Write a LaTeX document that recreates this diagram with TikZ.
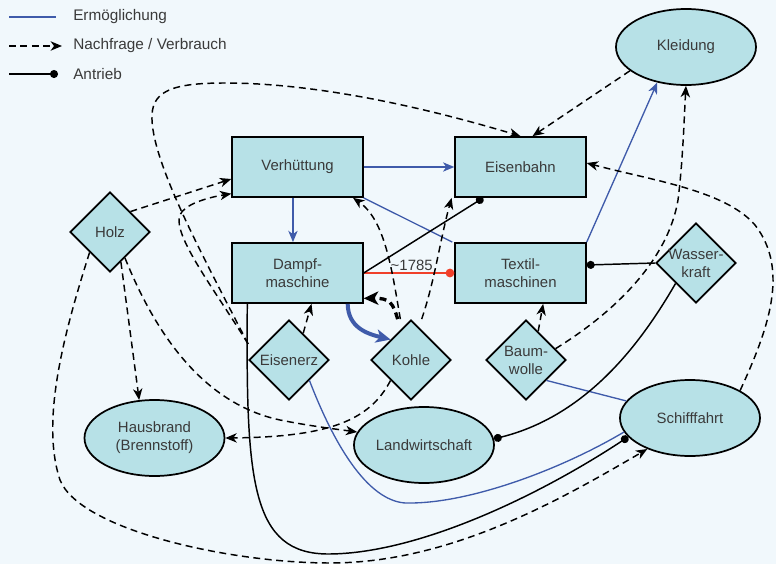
\documentclass[tikz,border=0pt]{standalone}
\usepackage{fontspec}
\setmainfont{Liberation Sans}
\usetikzlibrary{shapes.geometric, arrows.meta}
\definecolor{paper}{HTML}{F1F8FC}
\definecolor{cell}{HTML}{B7E1E7}
\definecolor{enablecol}{HTML}{3F5BAA}
\definecolor{yearcol}{HTML}{F0402A}
\definecolor{ink}{HTML}{3A3A3A}

\begin{document}
\begin{tikzpicture}[x=0.75pt, y=-0.75pt,
    every node/.style={font=\fontsize{11.2}{13.5}\selectfont, text=ink, align=center},
    >={Stealth[length=8.5pt, width=7pt, inset=2.5pt]},
    box/.style={draw=black, line width=1.3pt, fill=cell, minimum width=98pt, minimum height=45pt},
    resource/.style={diamond, draw=black, line width=1.3pt, fill=cell, minimum size=60pt, inner sep=-3pt},
    usage/.style={ellipse, draw=black, line width=1.3pt, fill=cell, minimum width=105pt, minimum height=57pt, inner sep=0pt},
    enable/.style={draw=enablecol, line width=1pt},
    demand/.style={draw=black, line width=1.1pt, dash pattern=on 5.2pt off 3.4pt},
    drive/.style={draw=black, line width=1.1pt, -{Circle[length=6pt]}},
    legendtext/.style={anchor=west, inner sep=0pt, font=\fontsize{11.5}{13.5}\selectfont}]
                \fill[paper, use as bounding box] (0,0) rectangle (776,564);

                \coordinate (e0) at (9,17);
                \coordinate (e1) at (56,17);
                \coordinate (d0) at (9,46);
                \coordinate (d1) at (62,46);
                \coordinate (a0) at (9,74);
                \coordinate (a1) at (58,74);
                \node[legendtext] (eText) at (73,17) {Ermöglichung};
                \node[legendtext] (dText) at (73,46) {Nachfrage / Verbrauch};
                \node[legendtext] (aText) at (73,74) {Antrieb};
                \draw[enable] (e0) -- (e1);
                \draw[demand, ->] (d0) -- (d1);
                \draw[drive] (a0) -- (a1);

                \node[box] (verh) at (297.5,167) {Verhüttung};
                \node[box] (bahn) at (520.5,167) {Eisenbahn};
                \node[box] (dampf) at (297.5,273) {Dampf-\\maschine};
                \node[box] (textil) at (520.5,273) {Textil-\\maschinen};
                \node[resource] (holz) at (110,232) {Holz};
                \node[resource] (erz) at (289,360) {Eisenerz};
                \node[resource] (kohle) at (411,360) {Kohle};
                \node[resource] (baum) at (526,360) {Baum-\\wolle};
                \node[resource] (wasser) at (696,263) {Wasser-\\kraft};
                \node[usage] (kleid) at (686,47) {Kleidung};
                \node[usage] (haus) at (154.5,438) {Hausbrand\\(Brennstoff)};
                \node[usage] (land) at (424,445) {Landwirtschaft};
                \node[usage] (schiff) at (690,418) {Schifffahrt};

                \draw[enable, ->] (verh) -- (bahn);
                \draw[enable, ->] ([xshift=-3.4pt]verh.south) -- ([xshift=-3.4pt]dampf.north);
                \draw[enable] (verh.south east) -- ([xshift=-1.5pt]textil.north west);
                \draw[enable, ->] (textil.north east) -- (kleid.231);
                \draw[enable, line width=3pt, -{Stealth[length=11pt, width=10pt, inset=3pt]}] ([xshift=-12pt]dampf.south east) .. controls (348,328) and (368,334) .. (kohle.north west);
                \draw[enable] (erz.south east) .. controls (340,460) and (375,505) .. (410,503) .. controls (470,503) and (560,470) .. (schiff.192);
                \draw[enable] (baum.south east) -- (schiff.165);

                \draw[draw=yearcol, line width=1.1pt, -{Circle[length=6.5pt]}] (dampf.east) -- node[above, pos=0.53, inner sep=1pt] {\textasciitilde1785} (textil.west);
                \draw[drive] (dampf.east) -- ([xshift=-28pt]bahn.south);
                \draw[drive] (wasser.west) -- ([yshift=6pt]textil.east);
                \draw[drive] (wasser.south west) .. controls (644,338) and (590,415) .. (land.5);
                \draw[drive] ([xshift=12pt]dampf.south west) .. controls (246,480) and (250,555) .. (330,554) .. controls (420,553) and (540,495) .. (schiff.197);

                \draw[demand, ->] (holz.north east) -- ([yshift=-9pt]verh.west);
                \draw[demand, ->] ([yshift=12pt]erz.west) .. controls (215,290) and (172,235) .. (180,215) .. controls (184,205) and (205,198) .. ([yshift=-20pt]verh.west);
                \draw[demand, ->] ([yshift=12pt]erz.west) .. controls (205,260) and (150,160) .. (152,115) .. controls (153,90) and (175,83) .. (225,83) .. controls (330,83) and (450,115) .. (bahn.north);
                \draw[demand, ->] (kleid.203) -- ([xshift=9pt]bahn.north);
                \draw[demand, ->] (holz.south west) .. controls (65,330) and (40,420) .. (60,480) .. controls (80,530) and (230,563) .. (330,563) .. controls (450,563) and (560,500) .. (schiff.216);
                \draw[demand, ->] (holz.290) -- (haus.112);
                \draw[demand, ->] (holz.300) .. controls (160,345) and (210,405) .. (280,420) .. controls (310,426) and (335,429) .. (land.169);
                \draw[demand, ->] (kohle.south west) .. controls (370,420) and (330,437) .. (haus.east);
                \draw[demand, ->] ([xshift=-8pt]kohle.north) .. controls (392,270) and (385,220) .. ([xshift=-8pt]verh.south east);
                \draw[demand, line width=2.5pt, -{Stealth[length=11pt, width=10pt, inset=3pt]}] ([xshift=-10pt]kohle.north) .. controls (393,303) and (390,298) .. ([yshift=-19pt]dampf.east);
                \draw[demand, ->] ([xshift=8pt]kohle.north) .. controls (435,280) and (440,240) .. ([xshift=-2pt]bahn.south west);
                \draw[demand, ->] (erz.62) -- ([xshift=10.5pt]dampf.south);
                \draw[demand, ->] (baum.67) -- ([xshift=17pt]textil.south);
                \draw[demand, ->] (baum.21) .. controls (615,312) and (668,260) .. (678,200) .. controls (683,160) and (684,120) .. (kleid.south);
                \draw[demand, ->] (schiff.north east) .. controls (768,330) and (790,270) .. (755,225) .. controls (725,190) and (650,180) .. ([yshift=3pt]bahn.east);
            \end{tikzpicture}
\end{document}
